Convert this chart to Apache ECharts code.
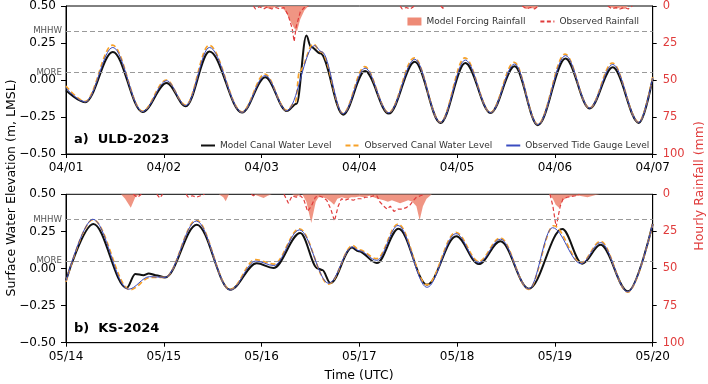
<!DOCTYPE html>
<html>
<head>
<meta charset="utf-8">
<script src="https://cdn.jsdelivr.net/npm/echarts@6/dist/echarts.min.js"></script>
<style>
  html, body { margin: 0; padding: 0; background: #fff; }
  #main { width: 708px; height: 384px; }
</style>
</head>
<body>
<div id="main"></div>
<script>
// tick labels (one per 24 h)
const daysA = ['04/01', '04/02', '04/03', '04/04', '04/05', '04/06', '04/07'];
const daysB = ['05/14', '05/15', '05/16', '05/17', '05/18', '05/19', '05/20'];
const datumNames = ['MHHW', 'MORE'];
const datumValues = [0.33, 0.05];

// panel a (ULD-2023), hours since 04/01 00:00
const tModelA = [0, 4.7, 11.5, 18.8, 24.7, 29.4, 35.2, 43.2, 48.9, 54.2, 56.6, 59.0, 60.1, 62.4, 68.0, 73.4, 79.2, 85.6, 91.9, 98.0, 104.2, 110.1, 115.8, 122.6, 128.5, 134.2, 140.6, 144];
const modelA = [-0.07, -0.15, 0.19, -0.216, -0.02, -0.178, 0.193, -0.22, 0.019, -0.21, -0.16, 0.30, 0.225, 0.18, -0.234, 0.06, -0.227, 0.124, -0.29, 0.115, -0.223, 0.093, -0.305, 0.146, -0.193, 0.086, -0.29, 0.01];
const tObsA = [0, 4.7, 11.4, 18.8, 24.6, 29.4, 35.1, 43.2, 48.8, 54.2, 56.3, 57.3, 60.7, 62.6, 68.0, 73.3, 79.2, 85.5, 91.9, 97.9, 104.2, 110.0, 115.8, 122.5, 128.5, 134.1, 140.6, 144];
const obsCanalA = [-0.04, -0.145, 0.236, -0.21, 0.0, -0.17, 0.235, -0.215, 0.04, -0.205, -0.15, 0.06, 0.243, 0.19, -0.225, 0.09, -0.22, 0.15, -0.285, 0.15, -0.22, 0.12, -0.30, 0.175, -0.19, 0.115, -0.285, 0.02];
const tGaugeA = [0, 4.7, 11.5, 18.8, 24.7, 29.4, 35.2, 43.2, 48.9, 54.2, 61.0, 62.8, 68.0, 73.4, 79.2, 85.6, 91.9, 98.0, 104.2, 110.1, 115.8, 122.6, 128.5, 134.2, 140.6, 144];
const gaugeA = [-0.055, -0.148, 0.22, -0.213, -0.005, -0.173, 0.22, -0.218, 0.03, -0.208, 0.232, 0.19, -0.228, 0.08, -0.222, 0.14, -0.287, 0.135, -0.221, 0.108, -0.302, 0.165, -0.19, 0.105, -0.287, 0.015];
const tRainModelA = [48, 49, 50, 51, 52, 53, 54, 55, 56, 56.7, 57.5, 58.5, 59.5, 60, 112, 113, 114, 115, 116, 117, 133, 134, 135, 136, 137, 138];
const rainModelA = [0, 1, 2, 1, 0, 1, 4, 10, 15, 17, 9, 3, 0, null, 0, 2, 1, 2, 0, null, 0, 1, 2, 1, 2, 0];
const tRainObsA = [46, 46.5, 47.5, 48.5, 49.5, 50.5, 51.5, 52.5, 53.5, 54.5, 55.5, 56, 56.5, 57.5, 58.5, 59.5, 70, 82, 82.5, 83.5, 84.5, 85.5, 88, 92, 92.5, 93, 100, 112, 113, 114, 115, 116, 120, 133, 134, 135, 136, 137, 138, 139];
const rainObsA = [0, 2, 0.5, 2, 0.5, 2, 1, 2, 1, 6, 15, 24, 14, 4, 1, 0, null, 0, 2, 1, 2, 0, null, 0, 1.5, 0, null, 0, 2, 1, 2, 0, null, 0, 2, 1, 2, 1, 2, 0];

// panel b (KS-2024), hours since 05/14 00:00
const tModelB = [0, 6.7, 14.9, 17.0, 19.0, 20.3, 22.0, 24.3, 32.1, 40.3, 46.8, 50.9, 57.5, 61.8, 62.9, 64.9, 70.2, 71.8, 76.3, 81.6, 88.6, 95.8, 101.3, 106.6, 113.6, 121.8, 126.7, 131.2, 137.9, 144];
const modelB = [-0.08, 0.30, -0.131, -0.037, -0.045, -0.033, -0.045, -0.06, 0.295, -0.143, 0.035, 0.003, 0.239, 0.0, -0.01, -0.098, 0.141, 0.116, 0.037, 0.268, -0.109, 0.217, 0.030, 0.183, -0.136, 0.266, 0.032, 0.16, -0.154, 0.30];
const tObsB = [0, 6.6, 15.7, 20.8, 24.3, 32.0, 40.3, 46.5, 51.0, 57.3, 64.5, 70.4, 71.9, 76.3, 81.5, 88.6, 95.7, 101.3, 106.6, 113.6, 119.7, 126.4, 131.2, 137.9, 144];
const obsCanalB = [-0.09, 0.33, -0.143, -0.06, -0.06, 0.325, -0.143, 0.06, 0.03, 0.268, -0.105, 0.155, 0.126, 0.066, 0.30, -0.11, 0.244, 0.048, 0.206, -0.14, 0.288, 0.037, 0.183, -0.16, 0.30];
const tGaugeB = [0, 6.6, 15.3, 20.5, 24.3, 32.0, 40.3, 46.6, 51.0, 57.3, 64.5, 70.3, 71.9, 76.3, 81.5, 88.6, 95.7, 101.3, 106.6, 113.6, 119.4, 126.4, 131.2, 137.9, 144];
const gaugeB = [-0.085, 0.332, -0.14, -0.055, -0.06, 0.32, -0.145, 0.05, 0.02, 0.26, -0.10, 0.145, 0.12, 0.055, 0.29, -0.127, 0.235, 0.038, 0.198, -0.138, 0.275, 0.033, 0.175, -0.158, 0.30];
const tRainModelB = [13.5, 14.5, 15.9, 17, 18, 25, 37.5, 38.6, 39.2, 40, 43, 46, 47, 48.5, 49.5, 50.5, 53, 55.5, 56.5, 57.5, 58, 59, 60.2, 61.3, 62, 63, 64, 65, 65.8, 66.6, 67.7, 69, 70, 71, 72, 73, 74.5, 75.5, 76.5, 78, 79, 80, 81, 82, 83, 84, 85, 86, 86.8, 87.6, 88.5, 89.8, 100, 118.5, 119.5, 120.2, 121, 122, 123, 124, 126, 128, 130, 131];
const rainModelB = [0, 3, 9, 2, 0, null, 0, 2, 4.7, 0, null, 0, 1, 2.5, 1, 0, null, 0, 2, 0, 0, 5, 19.4, 5, 2, 2, 3, 5, 7, 3, 2, 3, 2, 2, 1.5, 2, 1, 2, 3, 4, 5, 4, 5, 6, 5, 4, 5, 8, 17.5, 8, 3, 0, null, 0, 3, 7, 9, 4, 2, 1.5, 1, 2, 0.5, 0];
const tRainObsB = [16.5, 17.5, 18.5, 20, 22.3, 23, 23.7, 26, 29.5, 30, 31, 32, 33, 34, 40, 45.5, 46, 46.5, 50, 53.5, 54.6, 55.5, 56.5, 57.5, 58.3, 59.3, 60.2, 61.2, 62, 63, 64, 65, 65.9, 66.8, 67.6, 68.5, 69.5, 70.5, 71.5, 72.5, 73.5, 74.5, 75.5, 76.3, 77, 78, 78.8, 79.6, 80.5, 81.5, 82.5, 83.5, 84.5, 85.3, 86, 87, 88, 100, 118.8, 119.5, 120.3, 121.3, 122, 123, 124, 125, 126];
const rainObsB = [0, 2, 0, null, 0, 2.5, 0, null, 0, 2, 1, 2, 1, 0, null, 0, 1, 0, null, 0, 6, 1, 2, 1, 3, 11.5, 8, 2, 1, 2, 4, 10, 18, 8, 3, 4, 3, 4, 3, 3, 2, 2, 1, 1, 5, 8, 10, 8, 11.5, 10, 10, 9, 7, 4, 2, 1, 0, null, 0, 8, 22, 8, 3, 2, 1.5, 1, 0];

const FONT = 'DejaVu Sans';
const C_MODEL = '#111111';
const C_OBS = '#f7a128';
const C_GAUGE = '#3a4cc0';
const C_FILL = '#ee8a76';
const C_RAIN = '#e03c3c';

function pairs(t, v) {
  return t.map((x, i) => [x, v[i]]);
}

function fmtElev(v) {
  return v.toFixed(2).replace('-', '\u2212');
}

function xAxisFor(idx, days) {
  return {
    type: 'value', gridIndex: idx, min: 0, max: 144, interval: 24,
    axisLine: { onZero: false, lineStyle: { color: '#000', width: 1 } },
    axisTick: { length: 4, lineStyle: { color: '#000' } },
    axisLabel: { color: '#000', fontFamily: FONT, fontSize: 12, margin: 8,
      formatter: v => days[Math.round(v / 24)] },
    splitLine: { show: false }
  };
}

function yAxesFor(idx) {
  return [{
    type: 'value', gridIndex: idx, min: -0.5, max: 0.5, interval: 0.25,
    axisLine: { show: true, onZero: false, lineStyle: { color: '#000' } },
    axisTick: { show: true, length: 5, lineStyle: { color: '#000' } },
    axisLabel: { color: '#000', fontFamily: FONT, fontSize: 12, margin: 10, formatter: fmtElev },
    splitLine: { show: false }
  }, {
    type: 'value', gridIndex: idx, position: 'right', inverse: true, min: 0, max: 100, interval: 25,
    axisLine: { show: true, onZero: false, lineStyle: { color: '#000' } },
    axisTick: { show: true, length: 4, lineStyle: { color: '#000' } },
    axisLabel: { color: C_RAIN, fontFamily: FONT, fontSize: 11.5, margin: 10 },
    splitLine: { show: false }
  }];
}

function panelSeries(idx, tm, m, to, o, tg, g, trm, rm, tro, ro) {
  const xi = idx, yl = idx * 2, yr = idx * 2 + 1;
  const tide = { type: 'line', xAxisIndex: xi, yAxisIndex: yl, symbol: 'none',
    smooth: 0.35, smoothMonotone: 'x', animation: false };
  return [
    {
      name: 'Model Forcing Rainfall', type: 'line', xAxisIndex: xi, yAxisIndex: yr,
      data: pairs(trm, rm), symbol: 'none', connectNulls: false, animation: false,
      lineStyle: { width: 0 }, itemStyle: { color: C_FILL },
      areaStyle: { color: C_FILL, opacity: 0.9 }, z: 1
    },
    {
      name: 'Observed Rainfall', type: 'line', xAxisIndex: xi, yAxisIndex: yr,
      data: pairs(tro, ro), symbol: 'none', connectNulls: false, animation: false,
      lineStyle: { color: C_RAIN, width: 1.2, type: [4, 2.5] }, itemStyle: { color: C_RAIN }, z: 2
    },
    Object.assign({}, tide, {
      name: 'Model Canal Water Level', data: pairs(tm, m), z: 3,
      lineStyle: { color: C_MODEL, width: 2 }, itemStyle: { color: C_MODEL },
      markLine: {
        silent: true, symbol: 'none', animation: false,
        lineStyle: { color: '#9a9a9a', width: 1.1, type: [5, 3] },
        label: { position: 'start', distance: 4, formatter: '{b}', color: '#555',
          fontFamily: FONT, fontSize: 8.6 },
        data: datumNames.map((n, i) => ({ name: n, yAxis: datumValues[i] }))
      }
    }),
    Object.assign({}, tide, {
      name: 'Observed Canal Water Level', data: pairs(to, o), z: 4,
      lineStyle: { color: C_OBS, width: 1.7, type: [5, 3] }, itemStyle: { color: C_OBS }
    }),
    Object.assign({}, tide, {
      name: 'Observed Tide Gauge Level', data: pairs(tg, g), z: 5,
      lineStyle: { color: C_GAUGE, width: 1 }, itemStyle: { color: C_GAUGE }
    })
  ];
}

const chart = echarts.init(document.getElementById('main'), null, { renderer: 'canvas' });

const legendText = { fontFamily: FONT, fontSize: 9, color: '#333' };

chart.setOption({
  backgroundColor: '#fff',
  animation: false,
  grid: [
    { left: 66, top: 5, width: 586.7, height: 149, show: true, borderColor: '#000', borderWidth: 1 },
    { left: 66, top: 194.3, width: 586.7, height: 148.4, show: true, borderColor: '#000', borderWidth: 1 }
  ],
  xAxis: [xAxisFor(0, daysA), xAxisFor(1, daysB)],
  yAxis: yAxesFor(0).concat(yAxesFor(1)),
  legend: [
    {
      left: 195, top: 136, itemWidth: 14, itemHeight: 8, itemGap: 13,
      textStyle: legendText, selectedMode: false, itemStyle: { opacity: 0 },
      data: ['Model Canal Water Level', 'Observed Canal Water Level', 'Observed Tide Gauge Level']
    },
    {
      right: 64, top: 12, itemWidth: 14, itemHeight: 8, itemGap: 14,
      textStyle: legendText, selectedMode: false,
      data: [
        { name: 'Model Forcing Rainfall', icon: 'rect' },
        { name: 'Observed Rainfall', itemStyle: { opacity: 0 } }
      ]
    }
  ],
  graphic: [
    { type: 'text', left: 74, top: 133, style: { text: 'a)  ULD-2023', fontFamily: FONT, fontSize: 13, fontWeight: 'bold', fill: '#000' } },
    { type: 'text', left: 74, top: 322, style: { text: 'b)  KS-2024', fontFamily: FONT, fontSize: 13, fontWeight: 'bold', fill: '#000' } },
    { type: 'text', x: 12, y: 188, rotation: Math.PI / 2,
      style: { text: 'Surface Water Elevation (m, LMSL)', fontFamily: FONT, fontSize: 12.5, fill: '#000', align: 'center', verticalAlign: 'middle' } },
    { type: 'text', x: 700, y: 186, rotation: Math.PI / 2,
      style: { text: 'Hourly Rainfall (mm)', fontFamily: FONT, fontSize: 12.5, fill: C_RAIN, align: 'center', verticalAlign: 'middle' } },
    { type: 'text', x: 359, y: 376, style: { text: 'Time (UTC)', fontFamily: FONT, fontSize: 12.5, fill: '#000', align: 'center', verticalAlign: 'middle' } }
  ],
  series: panelSeries(0, tModelA, modelA, tObsA, obsCanalA, tGaugeA, gaugeA, tRainModelA, rainModelA, tRainObsA, rainObsA)
    .concat(panelSeries(1, tModelB, modelB, tObsB, obsCanalB, tGaugeB, gaugeB, tRainModelB, rainModelB, tRainObsB, rainObsB))
});
</script>
</body>
</html>
